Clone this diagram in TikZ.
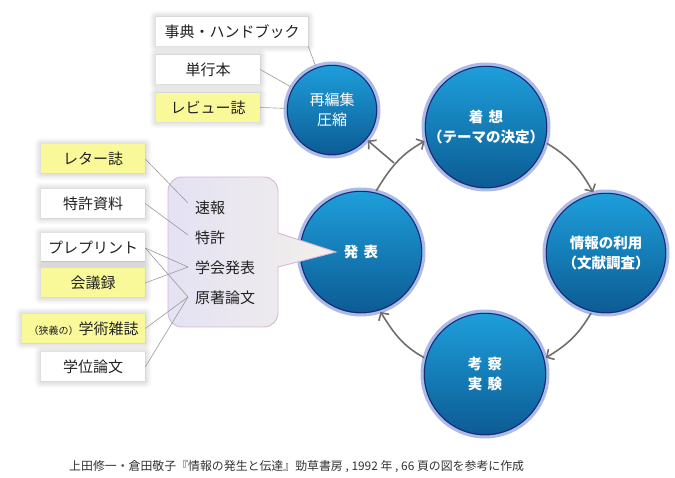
\documentclass[tikz,border=0pt]{standalone}
\usepackage{fontspec}
\setmainfont{Noto Sans CJK JP}
\usetikzlibrary{arrows.meta,shadows.blur}
\definecolor{txt}{HTML}{222222}
\definecolor{yel}{HTML}{FAF99A}
\definecolor{ringc}{HTML}{AEBAE6}
\definecolor{navyc}{HTML}{1E2878}
\definecolor{ballT}{HTML}{1EA0DC}
\definecolor{ballB}{HTML}{0C5A92}
\definecolor{arrc}{HTML}{6E6E6E}
\definecolor{conc}{HTML}{9A9A9A}
\definecolor{cbord}{HTML}{D6B6D8}
\definecolor{cleft}{HTML}{E4E2F3}
\definecolor{cright}{HTML}{F3EFEA}
\definecolor{capc}{HTML}{333333}
\begin{document}
\begin{tikzpicture}[x=1pt,y=1pt,
  box/.style={fill=white, minimum height=29pt, inner sep=0pt, text=txt,
    font=\fontsize{15}{18}\selectfont,
    blur shadow={shadow xshift=0pt, shadow yshift=0pt, shadow blur radius=7pt, shadow blur steps=8, shadow opacity=28}},
  ybox/.style={box, fill=yel},
  ball/.style={circle, minimum size=#1pt, inner sep=0pt, outer sep=0pt,
    draw=ringc, line width=3pt, top color=ballT, bottom color=ballB,
    text=white, align=center, font=\fontsize{14.5}{20}\selectfont\bfseries,
    path picture={\draw[navyc, line width=1.1pt] (path picture bounding box.center) circle[radius={#1/2*1pt-2.3pt}];}},
  arr/.style={draw=arrc, line width=1.6pt, -{Straight Barb[length=5.5pt,width=12pt]}},
  conn/.style={draw=conc, line width=0.6pt},
  ctext/.style={anchor=west, text=txt, inner sep=0pt, font=\fontsize{15}{18}\selectfont}
]
\useasboundingbox (0,0) rectangle (675,-478);

% circles
\node[ball=94, font=\fontsize{15}{20}\selectfont] (saihen) at (332,-110) {再編集\\圧縮};
\node[ball=126] (chakusou) at (486,-127) {着\hspace{0.35em}想\\（テーマの決定）};
\node[ball=124] (jouhou) at (606,-253) {情報の利用\\（文献調査）};
\node[ball=126] (kousatsu) at (485,-374) {考\hspace{0.35em}察\\実\hspace{0.35em}験};
\node[ball=126] (happyou) at (361,-252) {発\hspace{0.35em}表};

% top-left boxes
\node[box, minimum width=152pt] (jiten) at (232,-31.5) {事典・ハンドブック};
\node[box, minimum width=104pt] (tankou) at (208,-69.5) {単行本};
\node[ybox, minimum width=104pt] (review) at (208,-107.5) {レビュー誌};

\draw[conn] (jiten.south east) -- (saihen);
\draw[conn] (tankou.east) -- (saihen);
\draw[conn] (review.east) -- (saihen);

% cycle arrows
\coordinate (fork) at (394,-163);
\draw[arr] (happyou.76) to[out=59, in=209] (chakusou.193);
\draw[arr] (fork) -- (saihen);
\draw[arr] (chakusou.345) to[out=-31, in=119] (jouhou.102);
\draw[arr] (jouhou.256) to[out=-120, in=31] (kousatsu.15);
\draw[arr] (kousatsu.165) to[out=151, in=302] (happyou.288);

% callout
\path[draw=cbord, line width=0.9pt, left color=cleft, middle color=white, right color=cright]
  (278,-233) -- (278,-191) arc[start angle=0, end angle=90, radius=14]
  -- (182,-177) arc[start angle=90, end angle=180, radius=14]
  -- (168,-313) arc[start angle=180, end angle=270, radius=14]
  -- (264,-327) arc[start angle=270, end angle=360, radius=14]
  -- (278,-267) -- (336,-252) -- cycle;

\node[ctext] (sokuhou) at (195,-208) {速報};
\node[ctext] (tokkyo) at (195,-238) {特許};
\node[ctext] (gakkai) at (195,-268) {学会発表};
\node[ctext] (gencho) at (195,-298) {原著論文};

\coordinate (e1) at (188,-203);
\coordinate (e2) at (188,-235);
\coordinate (e3) at (188,-267);
\coordinate (e4) at (188,-297);

% left boxes
\node[ybox, minimum width=104pt] (letter) at (93,-159) {レター誌};
\node[box, minimum width=104pt] (tokshiryo) at (93,-203.5) {特許資料};
\node[box, minimum width=104pt] (preprint) at (93,-248) {プレプリント};
\node[ybox, minimum width=104pt] (kaigi) at (93,-283) {会議録};
\node[ybox, minimum width=123pt] (gakujutsu) at (83.5,-328.5) {{\fontsize{10}{12}\selectfont （狭義の）}学術雑誌};
\node[box, minimum width=104pt] (gakui) at (93,-367) {学位論文};

\draw[conn] (letter.east) -- (e1);
\draw[conn] (tokshiryo.east) -- (e2);
\draw[conn] (preprint.east) -- (e3);
\draw[conn] (preprint.east) -- (e4);
\draw[conn] (kaigi.east) -- (e3);
\draw[conn] (gakujutsu.east) -- (e4);
\draw[conn] (gakui.east) -- (e4);

% caption
\node[anchor=west, inner sep=0pt, text=capc, font=\fontsize{11.9}{14}\selectfont] (cap) at (69,-467)
  {上田修一・倉田敬子『情報の発生と伝達』勁草書房 , 1992 年 , 66 頁の図を参考に作成};
\end{tikzpicture}
\end{document}
